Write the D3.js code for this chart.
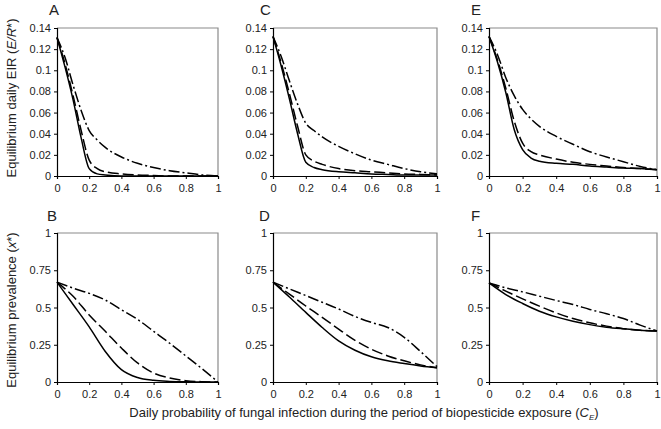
<!DOCTYPE html>
<html><head><meta charset="utf-8">
<script src="https://cdn.jsdelivr.net/npm/d3@7"></script>
<style>
html,body{margin:0;padding:0;background:#fff;}
text{font-family:Arial,"Liberation Sans",sans-serif;fill:#222;}
</style></head>
<body><svg id="c" width="661" height="429"></svg>
<script>
// x grids
const xTop = [0,0.05,0.1,0.15,0.2,0.25,0.3,0.4,0.5,0.6,0.7,0.8,0.9,1];
const xBottom = [0,0.1,0.2,0.3,0.4,0.5,0.6,0.7,0.8,0.9,1];
// tick labels
const xTicks = [0,0.2,0.4,0.6,0.8,1];
const yTicksTop = [0,0.02,0.04,0.06,0.08,0.1,0.12,0.14];
const yTicksBottom = [0,0.25,0.5,0.75,1];
const panelLetters = ["A","C","E","B","D","F"];
// Panel A (EIR)
const aSolid   = [0.131,0.103,0.072,0.036,0.007,0.002,0.001,0,0,0,0,0,0,0];
const aDash    = [0.131,0.106,0.076,0.043,0.015,0.007,0.004,0.002,0.001,0.0005,0,0,0,0];
const aDashDot = [0.131,0.112,0.086,0.062,0.043,0.034,0.027,0.018,0.012,0.008,0.005,0.003,0.001,0];
// Panel C (EIR)
const cSolid   = [0.132,0.104,0.073,0.040,0.013,0.008,0.006,0.004,0.003,0.002,0.0015,0.001,0.001,0.001];
const cDash    = [0.132,0.107,0.078,0.047,0.020,0.014,0.011,0.007,0.005,0.004,0.003,0.002,0.0015,0.001];
const cDashDot = [0.132,0.113,0.090,0.068,0.050,0.043,0.037,0.028,0.021,0.015,0.011,0.007,0.004,0.002];
// Panel E (EIR)
const eSolid   = [0.132,0.108,0.079,0.044,0.025,0.017,0.014,0.012,0.011,0.0095,0.0085,0.0075,0.007,0.006];
const eDash    = [0.132,0.110,0.083,0.052,0.031,0.023,0.020,0.016,0.013,0.011,0.0095,0.008,0.007,0.006];
const eDashDot = [0.132,0.115,0.093,0.076,0.063,0.054,0.047,0.0375,0.030,0.023,0.018,0.0135,0.009,0.006];
// Panel B (prevalence)
const bSolid   = [0.67,0.52,0.37,0.205,0.083,0.030,0.011,0.004,0.001,0,0];
const bDash    = [0.67,0.575,0.45,0.34,0.228,0.128,0.060,0.027,0.009,0.002,0];
const bDashDot = [0.67,0.63,0.595,0.55,0.485,0.42,0.34,0.26,0.175,0.09,0];
// Panel D (prevalence)
const dSolid   = [0.67,0.57,0.467,0.366,0.276,0.213,0.169,0.142,0.124,0.108,0.095];
const dDash    = [0.67,0.59,0.51,0.434,0.355,0.28,0.22,0.175,0.142,0.115,0.095];
const dDashDot = [0.67,0.625,0.58,0.535,0.49,0.44,0.40,0.366,0.30,0.204,0.103];
// Panel F (prevalence)
const fSolid   = [0.665,0.587,0.527,0.475,0.437,0.408,0.385,0.368,0.357,0.348,0.342];
const fDash    = [0.665,0.61,0.558,0.509,0.464,0.426,0.397,0.375,0.358,0.347,0.342];
const fDashDot = [0.665,0.632,0.605,0.576,0.547,0.52,0.487,0.458,0.426,0.382,0.342];

const svg = d3.select("#c");
const cols = [[57,218],[273,437],[489,657]];
const rows = [[28,176],[233,382]];
const letterX = [[49,260,471],[47,259,471]];
const letterY = [15,221];

const panels = [
  {r:0,c:0,x:xTop,s:[aSolid,aDash,aDashDot]},
  {r:0,c:1,x:xTop,s:[cSolid,cDash,cDashDot]},
  {r:0,c:2,x:xTop,s:[eSolid,eDash,eDashDot]},
  {r:1,c:0,x:xBottom,s:[bSolid,bDash,bDashDot]},
  {r:1,c:1,x:xBottom,s:[dSolid,dDash,dDashDot]},
  {r:1,c:2,x:xBottom,s:[fSolid,fDash,fDashDot]}
];
const dashes = [null,"11,4","11,3,2,3"];

panels.forEach((p,i)=>{
  const [x0,x1] = cols[p.c], [y0,y1] = rows[p.r];
  const xs = d3.scaleLinear().domain([0,1]).range([x0,x1]);
  const ys = d3.scaleLinear().domain(p.r===0?[0,0.14]:[0,1]).range([y1,y0]);
  const g = svg.append("g");
  // top/right frame (grey)
  g.append("path").attr("d",`M${x0},${y0}H${x1}V${y1}`).attr("fill","none").attr("stroke","#8a8a8a").attr("stroke-width",1.2);
  // axes
  const xa = d3.axisBottom(xs).tickValues(xTicks).tickSize(3).tickFormat(d3.format("~g"));
  const ya = d3.axisLeft(ys).tickValues(p.r===0?yTicksTop:yTicksBottom).tickSize(3).tickFormat(d3.format("~g"));
  const gx = g.append("g").attr("transform",`translate(0,${y1})`).call(xa);
  const gy = g.append("g").attr("transform",`translate(${x0},0)`).call(ya);
  [gx,gy].forEach(a=>{
    a.select(".domain").attr("stroke","#000").attr("stroke-width",1.2);
    a.selectAll(".tick line").attr("stroke","#000");
    a.selectAll(".tick text").style("font-size","11px").style("font-family","Arial, 'Liberation Sans', sans-serif").attr("fill","#222");
  });
  gx.selectAll(".tick text").attr("dy","0.95em");
  gy.selectAll(".tick text").attr("x",-6);
  // lines
  const line = d3.line().x((d,j)=>xs(p.x[j])).y(d=>ys(d)).curve(d3.curveMonotoneX);
  p.s.forEach((ser,k)=>{
    g.append("path").datum(ser).attr("d",line).attr("fill","none")
     .attr("stroke","#000").attr("stroke-width",1.5)
     .attr("stroke-dasharray",dashes[k]);
  });
  // letter
  g.append("text").attr("x",letterX[p.r][p.c]).attr("y",letterY[p.r])
   .style("font-size","15px").text(panelLetters[i]);
});

// y labels
const yl1 = svg.append("text").attr("transform","translate(16,98) rotate(-90)")
  .attr("text-anchor","middle").style("font-size","13px");
yl1.append("tspan").text("Equilibrium daily EIR (");
yl1.append("tspan").style("font-style","italic").text("E/R");
yl1.append("tspan").text("*)");
const yl2 = svg.append("text").attr("transform","translate(16,310) rotate(-90)")
  .attr("text-anchor","middle").style("font-size","13px");
yl2.append("tspan").text("Equilibrium prevalence (");
yl2.append("tspan").style("font-style","italic").text("x");
yl2.append("tspan").text("*)");
// x label
const xl = svg.append("text").attr("x",364).attr("y",417).attr("text-anchor","middle").style("font-size","13px");
xl.append("tspan").text("Daily probability of fungal infection during the period of biopesticide exposure (");
xl.append("tspan").style("font-style","italic").text("C");
xl.append("tspan").style("font-style","italic").style("font-size","8px").attr("dy","3").text("E");
xl.append("tspan").attr("dy","-3").text(")");
</script></body></html>
